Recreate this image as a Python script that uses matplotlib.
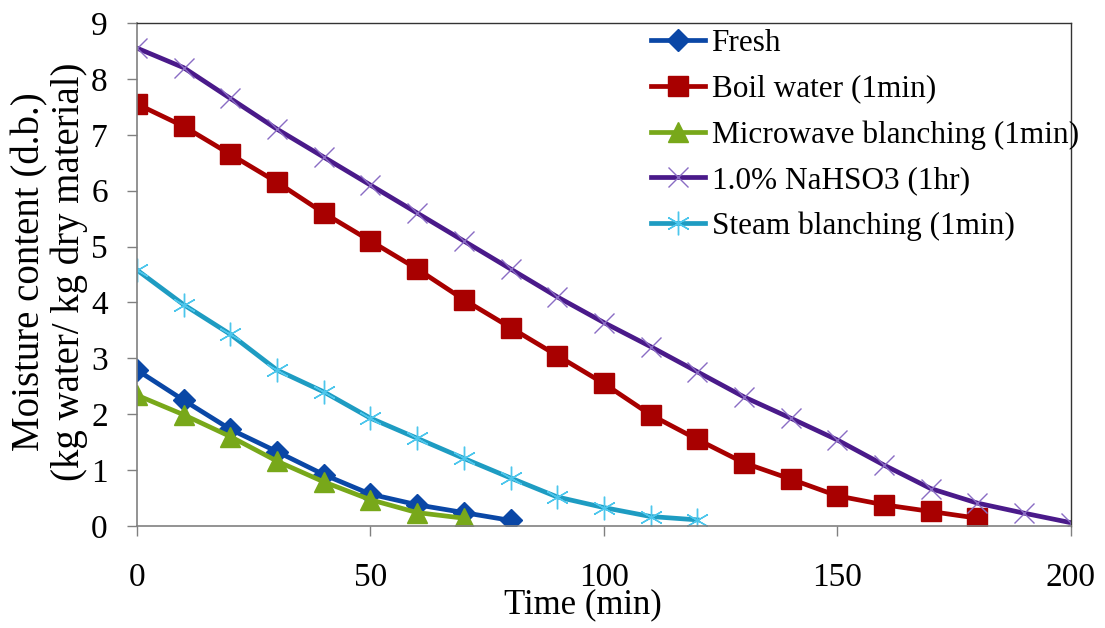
"""Drying curves: moisture content vs time for different pretreatments."""

import matplotlib.pyplot as plt
import numpy as np

plt.rcParams["font.family"] = ["Liberation Serif", "DejaVu Serif"]

# Data
time_fresh = [0, 10, 20, 30, 40, 50, 60, 70, 80]
fresh = [2.79, 2.25, 1.73, 1.33, 0.92, 0.57, 0.38, 0.24, 0.10]

time_boil = [0, 10, 20, 30, 40, 50, 60, 70, 80, 90, 100, 110, 120, 130, 140, 150, 160, 170, 180]
boil = [7.55, 7.15, 6.65, 6.15, 5.60, 5.10, 4.60, 4.05, 3.55, 3.05, 2.55, 1.99, 1.55, 1.13,
        0.84, 0.54, 0.38, 0.26, 0.14]

time_micro = [0, 10, 20, 30, 40, 50, 60, 70]
micro = [2.34, 1.99, 1.60, 1.16, 0.79, 0.47, 0.24, 0.14]

time_nahso3 = [0, 10, 20, 30, 40, 50, 60, 70, 80, 90, 100, 110, 120, 130, 140, 150, 160, 170,
               180, 190, 200]
nahso3 = [8.55, 8.20, 7.65, 7.10, 6.60, 6.10, 5.60, 5.10, 4.60, 4.10, 3.64, 3.21, 2.76, 2.31,
          1.93, 1.54, 1.09, 0.67, 0.41, 0.23, 0.06]

time_steam = [0, 10, 20, 30, 40, 50, 60, 70, 80, 90, 100, 110, 120]
steam = [4.58, 3.96, 3.43, 2.79, 2.40, 1.93, 1.57, 1.21, 0.86, 0.52, 0.33, 0.17, 0.11]

labels = ["Fresh", "Boil water (1min)", "Microwave blanching (1min)",
          "1.0% NaHSO3 (1hr)", "Steam blanching (1min)"]

fig = plt.figure(figsize=(11.05, 6.28), dpi=100)
ax = fig.add_axes([0.124, 0.1624, 0.845, 0.801])

ax.plot(time_fresh, fresh, color="#0A47A6", lw=3.4, marker="D", ms=11,
        mfc="#0A47A6", mec="#0A47A6", label=labels[0])
ax.plot(time_boil, boil, color="#A80000", lw=3.4, marker="s", ms=14,
        mfc="#A80000", mec="#A80000", label=labels[1])
ax.plot(time_micro, micro, color="#78A81A", lw=3.4, marker="^", ms=14,
        mfc="#78A81A", mec="#78A81A", label=labels[2])
ax.plot(time_nahso3, nahso3, color="#4A1A8A", lw=3.4, marker="x", ms=15, mew=1.0,
        mec="#8A6CC4", label=labels[3])
ax.plot(time_steam, steam, color="#1E9CC2", lw=3.4, marker=(6, 2, 0), ms=17, mew=1.0,
        mec="#4CC6EC", label=labels[4])

ax.set_xlim(0, 200)
ax.set_ylim(0, 9)
ax.set_xticks(np.arange(0, 201, 50))
ax.set_yticks(np.arange(0, 10, 1))

for side in ["left", "bottom"]:
    ax.spines[side].set_color("#808080")
    ax.spines[side].set_linewidth(1.2)
for side in ["top", "right"]:
    ax.spines[side].set_color("#333333")
    ax.spines[side].set_linewidth(1.0)

ax.tick_params(axis="both", direction="out", length=7, width=1.0, color="#808080",
               labelsize=24)
ax.tick_params(axis="x", pad=19)
ax.tick_params(axis="y", pad=14)

ax.set_xlabel("Time (min)", fontsize=25)
ax.xaxis.set_label_coords(0.478, -0.124)
ax.set_ylabel("Moisture content (d.b.)\n(kg water/ kg dry material)", fontsize=28,
              linespacing=1.05)
ax.yaxis.set_label_coords(-0.053, 0.505)

ax.legend(loc="upper left", bbox_to_anchor=(0.55, 0.988), frameon=False, fontsize=22.5,
          handlelength=1.75, handletextpad=0.2, labelspacing=0.53, borderaxespad=0.0,
          borderpad=0.0)

fig.savefig("out.png", dpi=100)
